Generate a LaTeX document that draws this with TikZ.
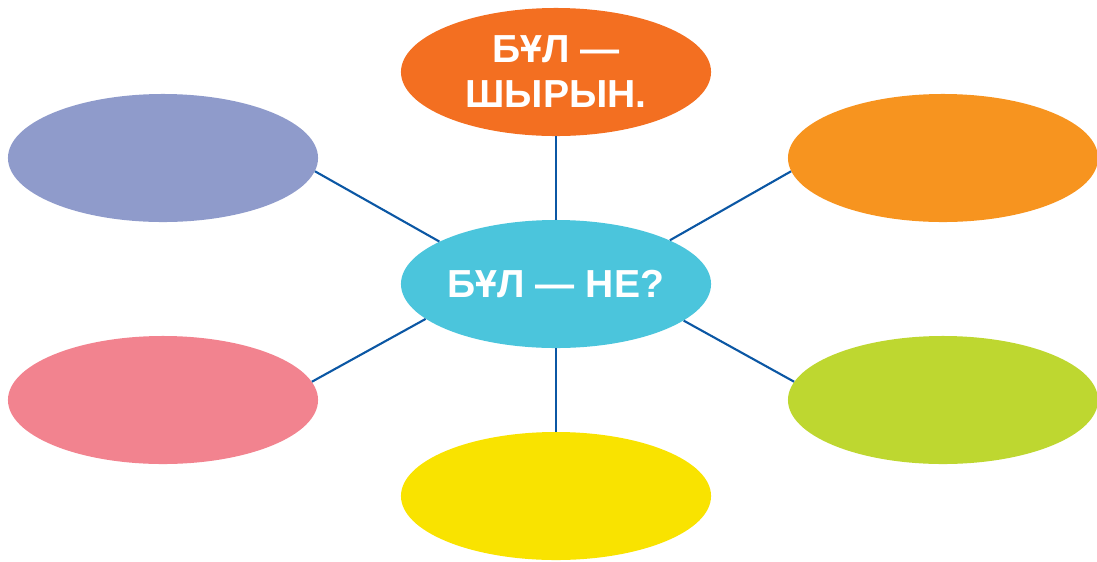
\documentclass[tikz,border=0pt]{standalone}
\usepackage{fontspec}
\setmainfont{Liberation Sans}
\usetikzlibrary{shapes.geometric}
\definecolor{linkblue}{HTML}{0B57A4}
\definecolor{topred}{HTML}{F36F21}
\definecolor{midcyan}{HTML}{4BC5DC}
\definecolor{lowyellow}{HTML}{F9E300}
\definecolor{leftviolet}{HTML}{8F9BCB}
\definecolor{leftpink}{HTML}{F2838F}
\definecolor{rightorange}{HTML}{F7941F}
\definecolor{rightgreen}{HTML}{BED730}
\begin{document}
\begin{tikzpicture}[x=0.025cm,y=-0.025cm,
		bubble/.style={shape=ellipse,draw=none,minimum width=7.75cm,minimum height=3.2cm,inner sep=0pt,
			text=white,font=\bfseries\fontsize{27.8}{32}\selectfont,align=center},
		link/.style={draw=linkblue,line width=1.5pt}]
		\useasboundingbox (0,0) rectangle (1097,561);
		\node[bubble,fill=topred] (T) at (556,72) {БҰЛ —\\ШЫРЫН.};
		\node[bubble,fill=midcyan] (C) at (556,284) {\raisebox{-0.12cm}{БҰЛ — НЕ?}};
		\node[bubble,fill=lowyellow] (B) at (556,496) {};
		\node[bubble,fill=leftviolet] (L1) at (163,158) {};
		\node[bubble,fill=leftpink] (L2) at (163,400) {};
		\node[bubble,fill=rightorange] (R1) at (943,158) {};
		\node[bubble,fill=rightgreen] (R2) at (943,400) {};
		
		\path[link] (C) edge node {} (T);
		\path[link] (C) edge node {} (B);
		\path[link] (C.160) edge node {} (L1.-5);
		\path[link] (C.-165) edge node {} (L2.7);
		\path[link] (C.21) edge node {} (R1.-175);
		\path[link] (C.-16) edge node {} (R2.173);
		
		\end{tikzpicture}
\end{document}
